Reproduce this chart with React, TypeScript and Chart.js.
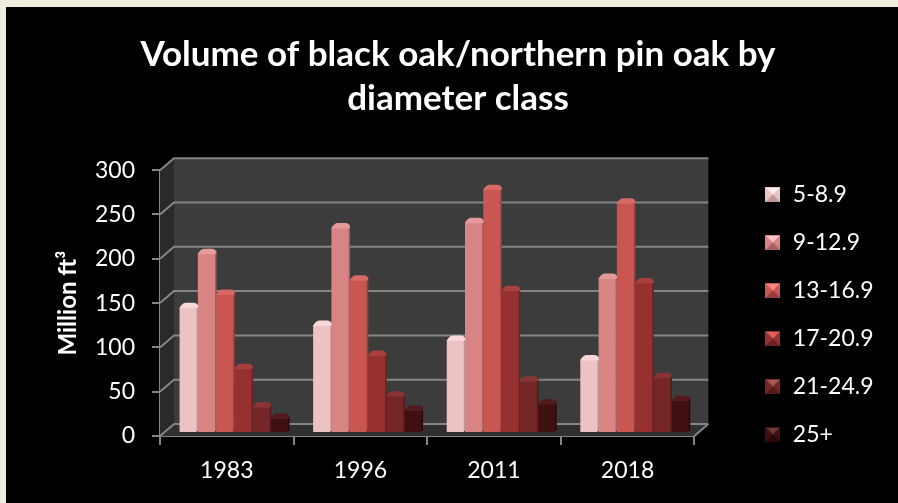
import React, { useEffect, useRef } from "react";
import { Chart, registerables } from "chart.js";

Chart.register(...registerables);

const years = ["1983", "1996", "2011", "2018"];
const classNames = ["5-8.9", "9-12.9", "13-16.9", "17-20.9", "21-24.9", "25+"];
const class5to9 = [142, 122, 105, 83];
const class9to13 = [203, 232, 238, 175];
const class13to17 = [157, 173, 275, 260];
const class17to21 = [73, 88, 161, 170];
const class21to25 = [30, 42, 59, 63];
const class25plus = [17, 26, 33, 37];
const seriesValues = [class5to9, class9to13, class13to17, class17to21, class21to25, class25plus];

const faceColors = ["#ecc2c2", "#d98484", "#c95650", "#97312f", "#742726", "#3f0f11"];
const edgeColors = ["#bd9898", "#a66262", "#963c3a", "#6d2120", "#521a1a", "#2a0808"];
const capColors = ["#f7d7d7", "#e59a9a", "#d86a66", "#a83f3c", "#863534", "#521a1c"];
const swatchTopColors = ["#fdf0f0", "#f8c8c8", "#fb8682", "#dd6460", "#a55a58", "#6a3a3a"];

const FONT = "Lato, Carlito, Calibri, sans-serif";
const DEPTH_X = 14;
const DEPTH_Y = 12;
const BAR_SHIFT_X = 7;
const BAR_SHIFT_Y = 3;
const GRID = "#858585";

// Pyramid-bevelled legend swatch.
function makeSwatch(i: number): HTMLCanvasElement {
  const s = 15;
  const c = document.createElement("canvas");
  c.width = s;
  c.height = s;
  const g = c.getContext("2d")!;
  const tri = (pts: number[][], color: string) => {
    g.fillStyle = color;
    g.beginPath();
    pts.forEach(([x, y], k) => (k ? g.lineTo(x, y) : g.moveTo(x, y)));
    g.closePath();
    g.fill();
  };
  const m: number[] = [s / 2, s / 2];
  g.fillStyle = faceColors[i];
  g.fillRect(0, 0, s, s);
  tri([[1, 1], [s - 1, 1], m], swatchTopColors[i]);
  tri([[0, s], [s, s], m], edgeColors[i]);
  return c;
}

// Back wall, side wall and floor of the box, drawn from the value scale.
const boxPlugin = {
  id: "box3d",
  beforeDatasetsDraw(chart: any) {
    const { ctx, chartArea: a, scales } = chart;
    const y = scales.y;
    const base = y.getPixelForValue(0);
    const top = y.getPixelForValue(300);
    ctx.save();
    ctx.fillStyle = "#3c3c3c";
    ctx.fillRect(a.left + DEPTH_X, top - DEPTH_Y, a.width, base - top);
    ctx.fillStyle = "#2a2a2a";
    ctx.beginPath();
    ctx.moveTo(a.left, top);
    ctx.lineTo(a.left + DEPTH_X, top - DEPTH_Y);
    ctx.lineTo(a.left + DEPTH_X, base - DEPTH_Y);
    ctx.lineTo(a.left, base);
    ctx.closePath();
    ctx.fill();
    ctx.fillStyle = "#303030";
    ctx.beginPath();
    ctx.moveTo(a.left, base);
    ctx.lineTo(a.left + DEPTH_X, base - DEPTH_Y);
    ctx.lineTo(a.right + DEPTH_X, base - DEPTH_Y);
    ctx.lineTo(a.right, base);
    ctx.closePath();
    ctx.fill();
    ctx.strokeStyle = GRID;
    ctx.lineWidth = 2;
    y.ticks.forEach((t: any) => {
      const py = y.getPixelForValue(t.value);
      ctx.beginPath();
      ctx.moveTo(a.left, py);
      ctx.lineTo(a.left + DEPTH_X, py - DEPTH_Y);
      ctx.lineTo(a.right + DEPTH_X, py - DEPTH_Y);
      ctx.stroke();
    });
    ctx.beginPath();
    ctx.moveTo(a.right, base);
    ctx.lineTo(a.right + DEPTH_X, base - DEPTH_Y);
    ctx.stroke();
    ctx.restore();
  },
  // Bars sit part-way into the box; each one gets a side strip and rounded cap.
  beforeDatasetDraw(chart: any, args: any) {
    const { ctx } = chart;
    const meta = chart.getDatasetMeta(args.index);
    ctx.save();
    ctx.translate(BAR_SHIFT_X, -BAR_SHIFT_Y);
    meta.data.forEach((bar: any) => {
      const half = bar.width / 2;
      const right = bar.x + half;
      ctx.fillStyle = edgeColors[args.index];
      ctx.fillRect(right - 0.5, bar.y - 2, 2, bar.base - bar.y + 1);
    });
  },
  afterDatasetDraw(chart: any, args: any) {
    const { ctx } = chart;
    const meta = chart.getDatasetMeta(args.index);
    meta.data.forEach((bar: any) => {
      const half = bar.width / 2;
      const left = bar.x - half;
      const right = bar.x + half + 1.5;
      ctx.fillStyle = capColors[args.index];
      ctx.beginPath();
      ctx.moveTo(left, bar.y + 1);
      ctx.quadraticCurveTo(left + 2, bar.y - 4, left + 6, bar.y - 4.5);
      ctx.lineTo(right - 4, bar.y - 4.5);
      ctx.quadraticCurveTo(right, bar.y - 4, right, bar.y);
      ctx.lineTo(right - 2, bar.y + 1);
      ctx.closePath();
      ctx.fill();
    });
    ctx.restore();
  },
};

export default function App() {
  const ref = useRef<HTMLCanvasElement>(null);

  useEffect(() => {
    document.body.style.margin = "0";
    const chart = new Chart(ref.current!, {
      type: "bar",
      data: {
        labels: years,
        datasets: seriesValues.map((values, i) => ({
          label: classNames[i],
          data: values,
          backgroundColor: faceColors[i],
          borderWidth: 0,
          categoryPercentage: 0.82,
          barPercentage: 0.94,
        })),
      },
      options: {
        responsive: false,
        animation: false,
        layout: { padding: { left: 30, right: 18, top: 26, bottom: 32 } },
        plugins: {
          tooltip: { enabled: false },
          title: {
            display: true,
            text: ["Volume of black oak/northern pin oak by", "diameter class"],
            color: "#ffffff",
            font: { family: FONT, size: 35, weight: "bold", lineHeight: 1.26 },
            padding: { top: 0, bottom: 49 },
          },
          legend: {
            position: "right",
            align: "end",
            labels: {
              color: "#ffffff",
              font: { family: FONT, size: 23 },
              usePointStyle: true,
              pointStyleWidth: 17,
              boxHeight: 15,
              padding: 25,
              generateLabels: () =>
                classNames.map((text, i) => ({
                  text,
                  pointStyle: makeSwatch(i),
                  fontColor: "#ffffff",
                  datasetIndex: i,
                  lineWidth: 0,
                })),
            },
          },
        },
        scales: {
          x: {
            afterFit: (scale: any) => {
              scale.height = 35;
              // Year labels hang below the short axis box, so they must not be clipped to it.
              scale._computeLabelArea = () => undefined;
            },
            grid: { drawOnChartArea: false, color: GRID, lineWidth: 2, tickLength: 9 },
            border: { color: GRID, width: 2 },
            ticks: { color: "#ffffff", font: { family: FONT, size: 23 }, padding: 12 },
          },
          y: {
            min: 0,
            max: 300,
            afterFit: (scale: any) => {
              scale.width = 124;
            },
            title: {
              display: true,
              text: "Million ft³",
              color: "#ffffff",
              font: { family: FONT, size: 24, weight: "bold" },
              padding: { top: 18, bottom: 0 },
            },
            grid: { drawOnChartArea: false, color: GRID, lineWidth: 2, tickLength: 8 },
            border: { color: GRID, width: 2 },
            ticks: { color: "#ffffff", font: { family: FONT, size: 23 }, stepSize: 50, padding: 17 },
          },
          // Empty right-hand axis: keeps the gap between the box and the legend.
          spacer: {
            position: "right",
            grid: { display: false },
            border: { display: false },
            ticks: { display: false },
            afterFit: (scale: any) => {
              scale.width = 45;
            },
          },
        },
      },
      plugins: [boxPlugin],
    } as any);
    return () => chart.destroy();
  }, []);

  return (
    <div style={{ position: "relative", width: 898, height: 503, background: "#efece0", overflow: "hidden" }}>
      <canvas ref={ref} width={892} height={496} style={{ position: "absolute", left: 6, top: 7, background: "#000", display: "block" }} />
    </div>
  );
}
